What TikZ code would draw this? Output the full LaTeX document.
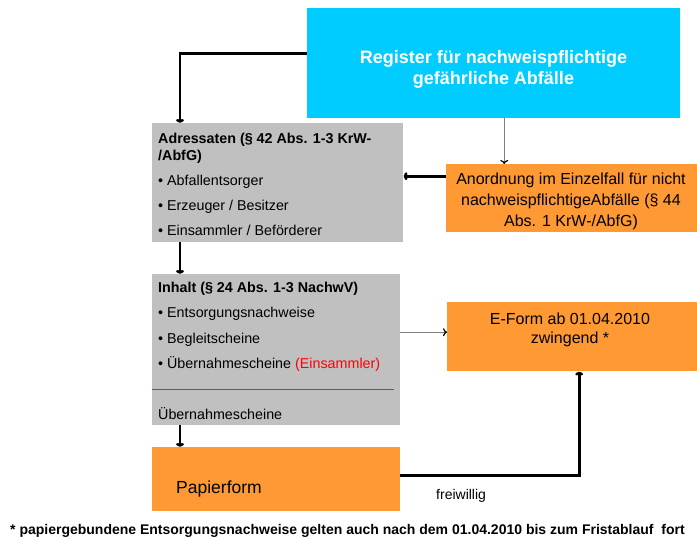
\documentclass[tikz,border=0pt]{standalone}
\usepackage{fontspec}
\setmainfont{Liberation Sans}
\usetikzlibrary{arrows.meta,calc}
\definecolor{regblue}{HTML}{00CCFF}
\definecolor{boxgray}{HTML}{C0C0C0}
\definecolor{boxorange}{HTML}{FF9933}
\definecolor{thingray}{HTML}{7F7F7F}
\definecolor{sepred}{HTML}{FF1A1A}
\newcommand{\fs}[1]{\fontsize{#1}{#1}\selectfont}
\begin{document}
\begin{tikzpicture}[x=1pt,y=-1pt,
  box/.style={draw=none,inner sep=0pt,anchor=north west},
  txt/.style={inner sep=0pt,anchor=base west},
  ctxt/.style={inner sep=0pt,anchor=base},
  thickarr/.style={line width=2.6pt,-{To[length=4pt,width=8pt]}},
  thinarr/.style={line width=1pt,draw=thingray,-{To[length=4pt,width=8pt,color=black,line width=1.2pt]}},
]
\useasboundingbox (0,0) rectangle (697,538);
% boxes
\node[box,fill=regblue,minimum width=373pt,minimum height=110pt] (reg) at (307,8) {};
\node[box,fill=boxgray,minimum width=251pt,minimum height=119pt] (adr) at (152,123) {};
\node[box,fill=boxorange,minimum width=251pt,minimum height=68pt] (ord) at (446,164) {};
\node[box,fill=boxgray,minimum width=248pt,minimum height=151pt] (inh) at (152,274) {};
\node[box,fill=boxorange,minimum width=250pt,minimum height=69pt] (ef) at (447,302) {};
\node[box,fill=boxorange,minimum width=248pt,minimum height=64pt] (pap) at (152,447) {};
% register text
\node[ctxt,text=white,font=\fs{18}\bfseries] (reg1) at (493.5,63.5) {Register für nachweispflichtige};
\node[ctxt,text=white,font=\fs{18}\bfseries] (reg2) at (493.5,84.5) {gefährliche Abfälle};
% Adressaten
\node[txt,font=\fs{14.3}\bfseries] (a1) at (158,143) {Adressaten (§ 42 Abs. 1-3 KrW-};
\node[txt,font=\fs{14.3}\bfseries] (a2) at (158,160) {/AbfG)};
\node[txt,font=\fs{14.3}] (a3) at (158,185) {• Abfallentsorger};
\node[txt,font=\fs{14.3}] (a4) at (158,210) {• Erzeuger / Besitzer};
\node[txt,font=\fs{14.3}] (a5) at (158,235) {• Einsammler / Beförderer};
% Anordnung
\node[ctxt,font=\fs{16}] (o1) at (571,184) {Anordnung im Einzelfall für nicht};
\node[ctxt,font=\fs{16}] (o2) at (571,205) {nachweispflichtigeAbfälle (§ 44};
\node[ctxt,font=\fs{16}] (o3) at (571,226) {Abs. 1 KrW-/AbfG)};
% Inhalt
\node[txt,font=\fs{14.3}\bfseries] (i1) at (158,292) {Inhalt (§ 24 Abs. 1-3 NachwV)};
\node[txt,font=\fs{14.3}] (i2) at (158,317) {• Entsorgungsnachweise};
\node[txt,font=\fs{14.3}] (i3) at (158,343) {• Begleitscheine};
\node[txt,font=\fs{14.3}] (i4) at (158,368) {• Übernahmescheine \textcolor{red}{(Einsammler)}};
\draw[sepred,line width=1pt] (inh.west |- 0,389) -- (394,389);
\node[txt,font=\fs{14.3}] (i5) at (158,419) {Übernahmescheine};
% E-Form
\node[ctxt,font=\fs{16}] (e1) at (570,324) {E-Form ab 01.04.2010};
\node[ctxt,font=\fs{16}] (e2) at (570,343) {zwingend *};
% Papierform
\node[txt,font=\fs{17.5}] (p1) at (176,493) {Papierform};
\node[txt,font=\fs{14}] (fw) at (436,499) {freiwillig};
% footer
\node[txt,font=\fs{14}\bfseries] (foot) at (10,534.5) {* papiergebundene Entsorgungsnachweise gelten auch nach dem 01.04.2010 bis zum Fristablauf\ \ fort};
% connectors
\draw[thickarr] ([yshift=10pt]reg.west) -| ([xshift=28pt]adr.north west);
\draw[thinarr] ([xshift=10.5pt]reg.south) -- ([xshift=10.5pt]reg.south |- ord.north);
\draw[thickarr] ([yshift=22pt]ord.west) -- ([yshift=22pt]ord.west -| adr.east);
\draw[thickarr] ([xshift=28pt]adr.south west) -- ([xshift=28pt]inh.north west);
\draw[thinarr] ([yshift=17.5pt]inh.east) -- ([yshift=17.5pt]inh.east -| ef.west);
\draw[thickarr] ([xshift=28pt]inh.south west) -- ([xshift=28pt]pap.north west);
\draw[thickarr] ([yshift=4pt]pap.east) -| ([xshift=7pt]ef.south);
\end{tikzpicture}
\end{document}
